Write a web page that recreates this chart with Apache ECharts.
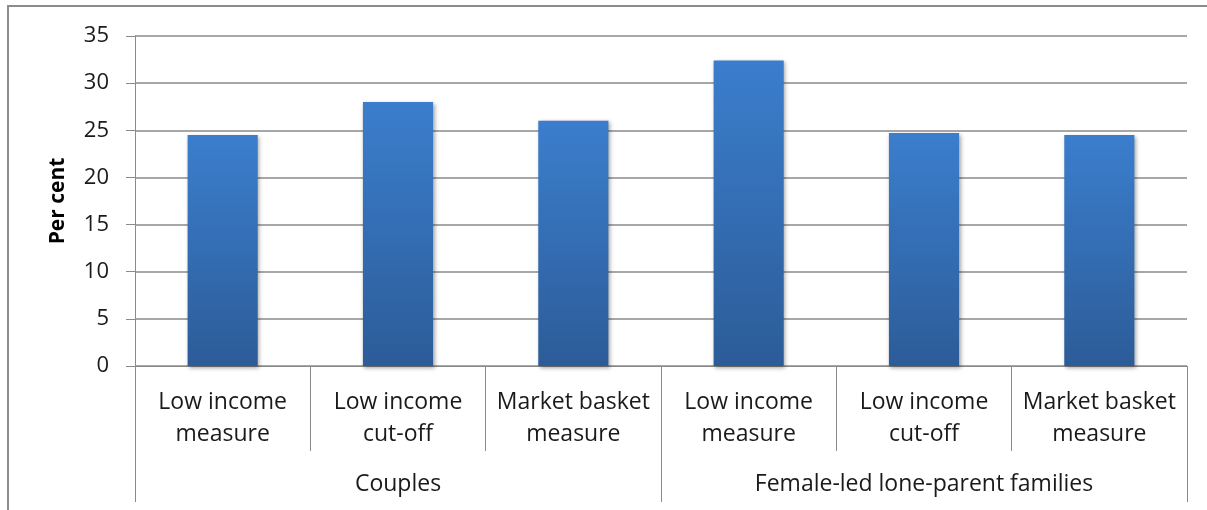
<!DOCTYPE html>
<html>
<head>
<meta charset="utf-8">
<script src="https://cdn.jsdelivr.net/npm/echarts@6/dist/echarts.min.js"></script>
<style>
html,body{margin:0;padding:0;background:#fff;}
#chart{width:1207px;height:510px;}
</style>
</head>
<body>
<div id="chart"></div>
<script>
const categories = ['Low income\nmeasure', 'Low income\ncut-off', 'Market basket\nmeasure', 'Low income\nmeasure', 'Low income\ncut-off', 'Market basket\nmeasure'];
const groups = ['Couples', 'Female-led lone-parent families'];
const values = [24.5, 28.0, 26.0, 32.4, 24.7, 24.5];
const yTicks = { min: 0, max: 35, interval: 5 };
const yName = 'Per cent';

const FONT = '"Open Sans", Lato, sans-serif';
const GRID_COLOR = '#8a8a8a';

const chart = echarts.init(document.getElementById('chart'), null, { renderer: 'canvas' });
chart.setOption({
  animation: false,
  backgroundColor: '#ffffff',
  graphic: [{
    type: 'rect',
    shape: { x: 8, y: 6, width: 1300, height: 600 },
    style: { fill: 'none', stroke: '#8c8c8c', lineWidth: 2 },
    z: -1
  }],
  grid: { left: 135, right: 20, top: 36, bottom: 144, containLabel: false },
  xAxis: [{
    type: 'category',
    data: categories,
    position: 'bottom',
    axisLine: { show: true, lineStyle: { color: GRID_COLOR, width: 1 } },
    axisTick: { show: true, interval: 0, length: 85, lineStyle: { color: GRID_COLOR, width: 1 } },
    axisLabel: { interval: 0, fontFamily: FONT, fontSize: 23, lineHeight: 32, color: '#1a1a1a', margin: 20 }
  }, {
    type: 'category',
    data: groups,
    position: 'bottom',
    axisLine: { show: false },
    axisTick: { show: true, interval: 0, length: 136, lineStyle: { color: GRID_COLOR, width: 1 } },
    axisLabel: { interval: 0, fontFamily: FONT, fontSize: 23, color: '#1a1a1a', margin: 107 }
  }],
  yAxis: {
    type: 'value',
    min: yTicks.min, max: yTicks.max, interval: yTicks.interval,
    name: yName,
    nameLocation: 'middle',
    nameGap: 66,
    nameTextStyle: { fontFamily: FONT, fontSize: 21, fontWeight: 'bold', color: '#000' },
    axisLine: { show: true, lineStyle: { color: GRID_COLOR, width: 1 } },
    axisTick: { show: true, length: 9, lineStyle: { color: GRID_COLOR, width: 1 } },
    axisLabel: { fontFamily: FONT, fontSize: 22, color: '#1a1a1a', margin: 26 },
    splitLine: { show: true, lineStyle: { color: GRID_COLOR, width: 1.5 } }
  },
  series: [{
    type: 'bar',
    xAxisIndex: 0,
    data: values,
    barWidth: '40%',
    itemStyle: {
      color: new echarts.graphic.LinearGradient(0, 0, 0, 1, [
        { offset: 0, color: '#3b7ecd' },
        { offset: 1, color: '#2c5c98' }
      ]),
      shadowColor: 'rgba(0,0,0,0.35)',
      shadowBlur: 4,
      shadowOffsetX: 1.5,
      shadowOffsetY: 1.5
    }
  }]
});
</script>
</body>
</html>
